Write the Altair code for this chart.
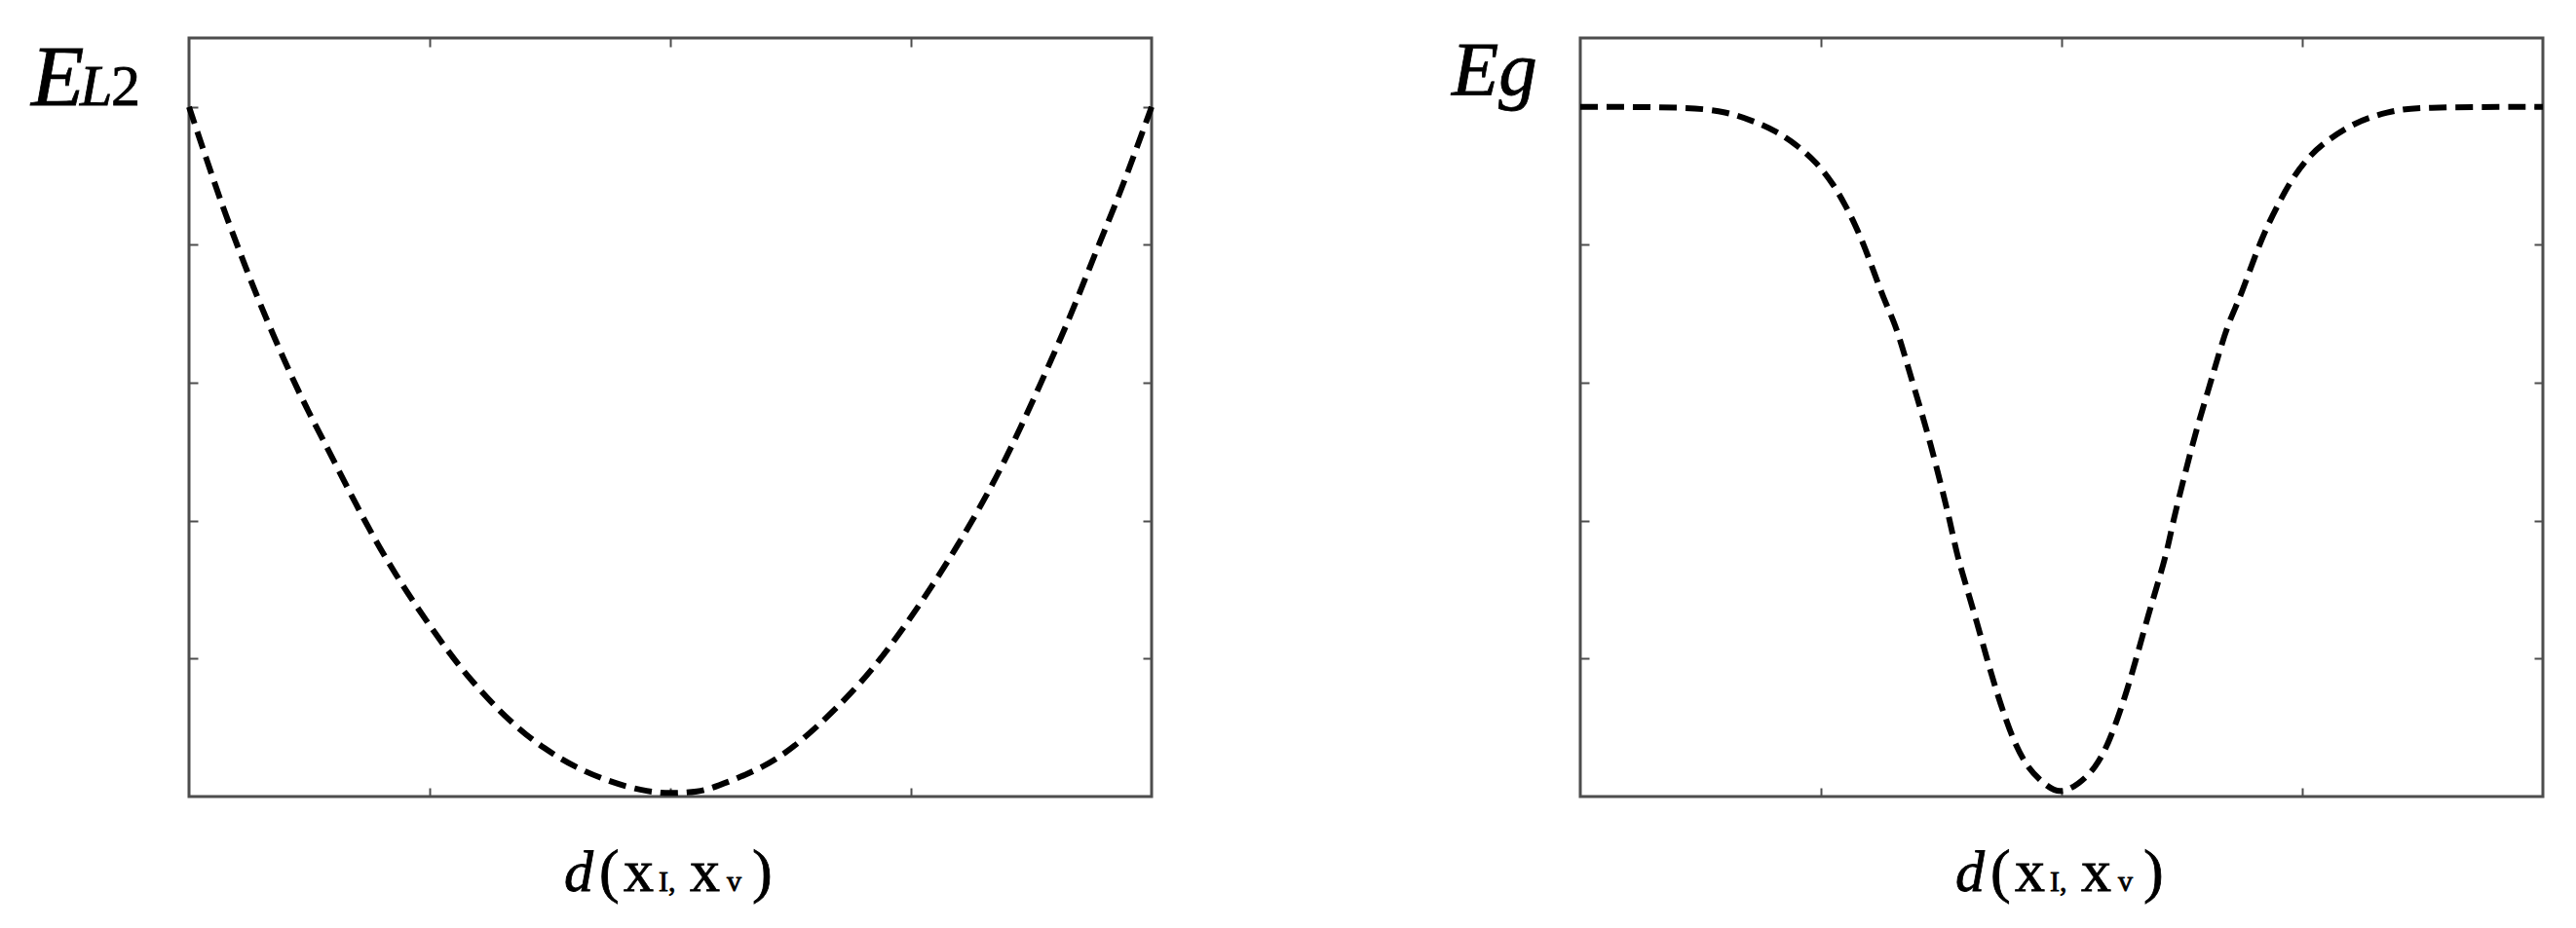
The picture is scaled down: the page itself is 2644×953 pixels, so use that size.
import altair as alt
import pandas as pd

# ---- data ----
# left panel: E_L2 versus d(xI, xv)
l2_x = [0.0, 0.018, 0.035, 0.054, 0.072, 0.099, 0.122, 0.147, 0.180, 0.214,
        0.254, 0.291, 0.335, 0.369, 0.403, 0.436, 0.471, 0.500, 0.530, 0.545,
        0.595, 0.636, 0.696, 0.730, 0.764, 0.798, 0.831, 0.855, 0.882, 0.916,
        0.942, 0.967, 0.987, 1.0]
l2_y = [1.0, 0.925, 0.855, 0.785, 0.720, 0.632, 0.563, 0.497, 0.405, 0.322,
        0.239, 0.170, 0.106, 0.069, 0.041, 0.022, 0.008, 0.004, 0.007, 0.013,
        0.040, 0.078, 0.160, 0.220, 0.288, 0.362, 0.442, 0.508, 0.590, 0.697,
        0.790, 0.874, 0.950, 1.0]

# right panel: Eg versus d(xI, xv)
g_x = [0.0, 0.114, 0.152, 0.179, 0.202, 0.225, 0.246, 0.263, 0.276, 0.286,
       0.296, 0.306, 0.316, 0.327, 0.337, 0.347, 0.361, 0.374, 0.384, 0.391,
       0.401, 0.412, 0.422, 0.432, 0.442, 0.452, 0.465, 0.482, 0.498, 0.518,
       0.535, 0.548, 0.558, 0.568, 0.578, 0.588, 0.599, 0.609, 0.616, 0.626,
       0.639, 0.653, 0.663, 0.673, 0.684, 0.694, 0.704, 0.714, 0.724, 0.738,
       0.755, 0.772, 0.806, 0.839, 0.867, 1.0]
g_y = [1.0, 1.0, 0.993, 0.980, 0.966, 0.945, 0.919, 0.888, 0.856, 0.828,
       0.795, 0.757, 0.719, 0.686, 0.640, 0.592, 0.527, 0.456, 0.400, 0.352,
       0.305, 0.253, 0.202, 0.154, 0.112, 0.075, 0.041, 0.018, 0.003, 0.018,
       0.041, 0.075, 0.112, 0.154, 0.202, 0.253, 0.305, 0.352, 0.400, 0.456,
       0.527, 0.592, 0.640, 0.686, 0.719, 0.757, 0.795, 0.828, 0.856, 0.893,
       0.925, 0.948, 0.979, 0.993, 1.0, 1.0]

x_ticks = [0.25, 0.5, 0.75]
y_ticks = [0.2, 0.4, 0.6, 0.8, 1.0]
x_domain = [0, 1]
y_domain = [0, 1.1]

FONT = "Liberation Serif"
BOX = "#4d4d4d"
W, H = 988, 779


def label(txt, x, y, size, italic=False):
    return alt.Chart(alt.Data(values=[{"t": txt}])).mark_text(
        align="left", baseline="alphabetic", font=FONT, fontSize=size,
        fontStyle="italic" if italic else "normal", color="black",
        stroke="black", strokeWidth=0.8,
    ).encode(text="t:N", x=alt.value(x), y=alt.value(y))


def xlabel_parts():
    return [
        label("d", 385, 876, 60, italic=True),
        label("(", 421, 876, 62),
        label("x", 446, 876, 62),
        label("I,", 482, 876, 30),
        label("x", 514, 876, 62),
        label("v", 552, 876, 30),
        label(")", 578, 876, 62),
    ]


def panel(xs, ys, title_layers):
    df = pd.DataFrame({"d": xs, "e": ys})
    base = alt.Chart(df)
    ax = dict(labels=False, domain=False, grid=False, ticks=True, tickSize=9,
              tickColor=BOX, tickWidth=2, offset=-9, title=None)
    xs_ = alt.Scale(domain=x_domain, nice=False, zero=False)
    ys_ = alt.Scale(domain=y_domain, nice=False, zero=False)
    curve = base.mark_line(
        color="black", strokeWidth=6, strokeDash=[18, 9], interpolate="basis"
    ).encode(
        x=alt.X("d:Q", scale=xs_, axis=alt.Axis(orient="bottom", values=x_ticks, **ax)),
        y=alt.Y("e:Q", scale=ys_, axis=alt.Axis(orient="left", values=y_ticks, **ax)),
    )
    mirror = base.mark_line(opacity=0).encode(
        x=alt.X("d:Q", scale=xs_, axis=alt.Axis(orient="top", values=x_ticks, **ax)),
        y=alt.Y("e:Q", scale=ys_, axis=alt.Axis(orient="right", values=y_ticks, **ax)),
    )
    layers = [curve, mirror] + title_layers + xlabel_parts()
    return alt.layer(*layers).resolve_scale(
        x="independent", y="independent"
    ).properties(width=W, height=H)


left = panel(l2_x, l2_y, [
    label("E", -162, 69, 89, italic=True),
    label("L", -112, 69, 60, italic=True),
    label("2", -80, 69, 60),
])
right = panel(g_x, g_y, [
    label("Eg", -132, 58, 79, italic=True),
])

chart = alt.hconcat(left, right, spacing=440, bounds="flush").properties(
    padding={"left": 22, "top": 24, "right": 5, "bottom": 5},
    background="white",
).configure_view(stroke=BOX, strokeWidth=3)

chart.save("out.html", embed_options={"renderer": "svg", "actions": False})
